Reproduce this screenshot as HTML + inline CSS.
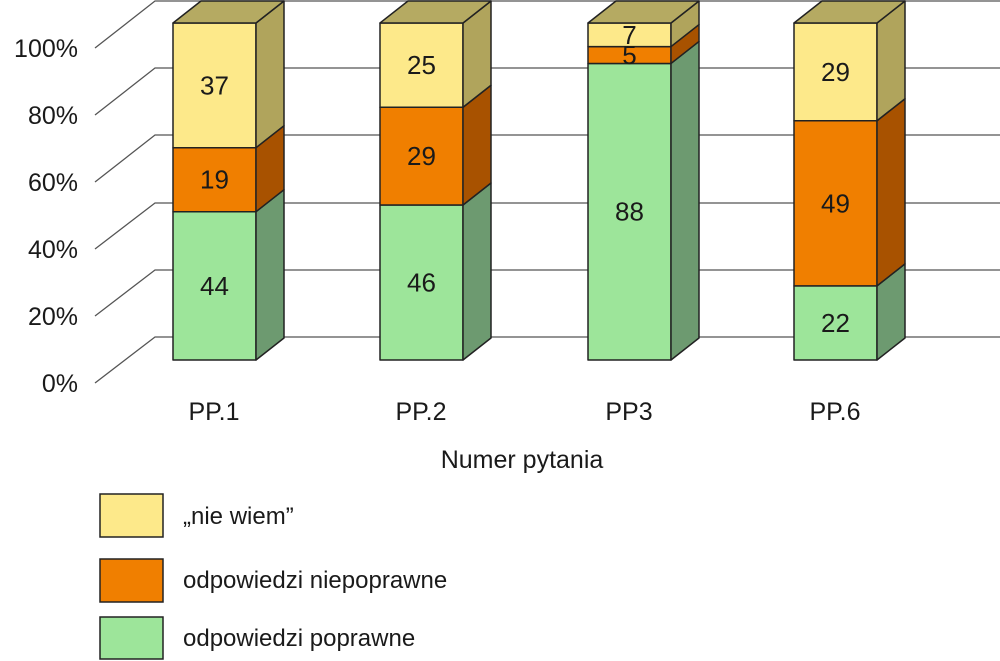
<!DOCTYPE html>
<html><head><style>body{margin:0;background:#fff}svg{display:block}text{font-family:"Liberation Sans",sans-serif;fill:#1a1a1a}</style></head><body>
<svg width="1000" height="661" viewBox="0 0 1000 661">
<g stroke="#555" stroke-width="1.3" fill="none">
<path d="M95,48L155,1H1000M95,115L155,68H1000M95,182L155,135H1000M95,249L155,203H1000M95,316L155,270H1000M95,383L155,337H1000"/>
</g>
<g font-size="25" text-anchor="end">
<text x="78" y="57">100%</text><text x="78" y="124">80%</text><text x="78" y="191">60%</text><text x="78" y="258">40%</text><text x="78" y="325">20%</text><text x="78" y="392">0%</text>
</g>
<g id="bars" stroke="#222" stroke-width="1.5" stroke-linejoin="round"></g>
<g font-size="25" text-anchor="middle">
<text x="214" y="420">PP.1</text><text x="421" y="420">PP.2</text><text x="629" y="420">PP3</text><text x="835" y="420">PP.6</text>
<text x="522" y="468">Numer pytania</text>
</g>
<g stroke="#222" stroke-width="1.5">
<rect x="100" y="494" width="63" height="43" fill="#fde98a"/>
<rect x="100" y="559" width="63" height="43" fill="#f07f00"/>
<rect x="100" y="617" width="63" height="42" fill="#9de59a"/>
</g>
<g font-size="24">
<text x="183" y="524">„nie wiem”</text>
<text x="183" y="588">odpowiedzi niepoprawne</text>
<text x="183" y="646">odpowiedzi poprawne</text>
</g>
<g id="labels" font-size="26" text-anchor="middle"></g>
</svg>
<script>
var data=[[173,[44,19,37]],[380,[46,29,25]],[588,[88,5,7]],[794,[22,49,29]]];
var front=["#9de59a","#f07f00","#fde98a"],side=["#6d9a70","#a85200","#b0a45c"],topc="#b5aa62";
var W=83,dx=28,dy=22,B=360,S=3.37,g=document.getElementById('bars'),L=document.getElementById('labels'),s='',t='';
data.forEach(function(d){var x=d[0],cum=0;d[1].forEach(function(v,i){var y0=B-cum*S,y1=B-(cum+v)*S;
s+='<rect x="'+x+'" y="'+y1+'" width="'+W+'" height="'+(y0-y1)+'" fill="'+front[i]+'"/>';
s+='<polygon points="'+(x+W)+','+y0+' '+(x+W+dx)+','+(y0-dy)+' '+(x+W+dx)+','+(y1-dy)+' '+(x+W)+','+y1+'" fill="'+side[i]+'"/>';
t+='<text x="'+(x+W/2)+'" y="'+((y0+y1)/2+9)+'">'+v+'</text>';cum+=v;});
var yt=B-100*S;s+='<polygon points="'+x+','+yt+' '+(x+dx)+','+(yt-dy)+' '+(x+W+dx)+','+(yt-dy)+' '+(x+W)+','+yt+'" fill="'+topc+'"/>';});
g.innerHTML=s;L.innerHTML=t;
</script>
</body></html>
